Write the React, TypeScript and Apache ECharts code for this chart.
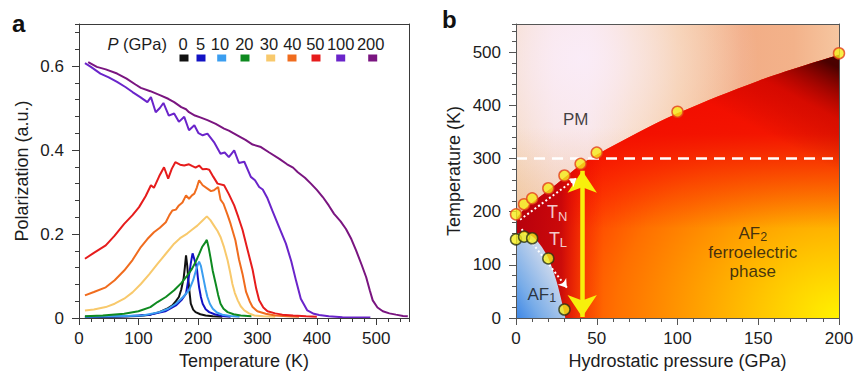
import React, { useEffect, useRef } from 'react';
import * as echarts from 'echarts';

// ---------------- Panel a : polarization vs temperature ----------------
const pressureLabels = ['0', '5', '10', '20', '30', '40', '50', '100', '200'];
const curveColors = ['#111111', '#1212c4', '#3b9ef0', '#0e8a20', '#f8c96c', '#f06c1e', '#e61c1c', '#6a24ca', '#7a1580'];

const pol0 = [[10, 0.002], [60, 0.003], [100, 0.005], [120, 0.008], [135, 0.014], [148, 0.022], [157, 0.03], [163, 0.04], [168, 0.05], [172, 0.068], [176, 0.095], [178, 0.12], [180, 0.149], [182, 0.125], [184, 0.089], [186, 0.06], [188, 0.034], [192, 0.02], [196, 0.014], [204, 0.009], [213, 0.006], [225, 0.004], [241, 0.003]];
const pol5 = [[10, 0.003], [80, 0.004], [120, 0.008], [145, 0.016], [163, 0.03], [172, 0.042], [180, 0.058], [185, 0.101], [188, 0.13], [191, 0.154], [194, 0.14], [198, 0.121], [200, 0.095], [202, 0.073], [205, 0.05], [208, 0.034], [213, 0.021], [219, 0.014], [228, 0.009], [240, 0.005], [255, 0.003]];
const pol10 = [[10, 0.003], [60, 0.004], [107, 0.006], [135, 0.014], [150, 0.022], [163, 0.034], [175, 0.05], [185, 0.066], [192, 0.09], [197, 0.115], [200, 0.128], [202, 0.134], [205, 0.124], [207, 0.11], [210, 0.089], [213, 0.068], [216, 0.05], [220, 0.034], [225, 0.022], [232, 0.013], [241, 0.008], [255, 0.005], [270, 0.003]];
const pol20 = [[10, 0.004], [40, 0.006], [76, 0.01], [100, 0.016], [120, 0.026], [132, 0.038], [146, 0.05], [160, 0.066], [172, 0.083], [182, 0.101], [190, 0.117], [196, 0.133], [202, 0.152], [207, 0.169], [211, 0.177], [215, 0.186], [218, 0.168], [221, 0.145], [225, 0.112], [230, 0.081], [234, 0.055], [238, 0.034], [243, 0.022], [250, 0.014], [260, 0.009], [272, 0.006], [290, 0.004]];
const pol30 = [[10, 0.018], [25, 0.02], [45, 0.026], [60, 0.034], [76, 0.046], [90, 0.061], [104, 0.081], [118, 0.104], [132, 0.129], [146, 0.153], [160, 0.177], [170, 0.19], [182, 0.201], [190, 0.21], [199, 0.22], [207, 0.231], [215, 0.242], [221, 0.233], [227, 0.22], [233, 0.207], [238, 0.193], [244, 0.168], [250, 0.137], [254, 0.11], [258, 0.081], [262, 0.06], [267, 0.042], [272, 0.028], [278, 0.018], [286, 0.011], [295, 0.006], [310, 0.004], [330, 0.003]];
const pol40 = [[10, 0.054], [25, 0.062], [45, 0.073], [60, 0.09], [76, 0.113], [90, 0.138], [104, 0.169], [115, 0.188], [126, 0.204], [136, 0.215], [146, 0.228], [152, 0.245], [157, 0.256], [163, 0.258], [168, 0.268], [174, 0.275], [180, 0.292], [185, 0.284], [190, 0.292], [194, 0.296], [198, 0.31], [202, 0.328], [208, 0.316], [216, 0.308], [222, 0.302], [227, 0.304], [234, 0.312], [238, 0.282], [243, 0.272], [250, 0.245], [255, 0.224], [263, 0.185], [269, 0.14], [275, 0.105], [281, 0.062], [287, 0.04], [292, 0.026], [300, 0.016], [314, 0.01], [330, 0.006], [350, 0.004], [370, 0.003]];
const pol50 = [[10, 0.141], [25, 0.155], [45, 0.173], [60, 0.196], [76, 0.224], [90, 0.245], [101, 0.264], [112, 0.29], [121, 0.316], [126, 0.31], [135, 0.338], [143, 0.359], [150, 0.332], [156, 0.355], [162, 0.371], [170, 0.365], [177, 0.363], [185, 0.366], [190, 0.362], [196, 0.358], [202, 0.363], [208, 0.354], [214, 0.355], [219, 0.353], [226, 0.336], [233, 0.32], [244, 0.316], [252, 0.295], [261, 0.268], [268, 0.24], [275, 0.21], [283, 0.165], [292, 0.115], [298, 0.07], [303, 0.042], [310, 0.025], [317, 0.016], [330, 0.011], [342, 0.008], [360, 0.006], [382, 0.004], [400, 0.003]];
const pol100 = [[10, 0.607], [20, 0.598], [36, 0.582], [50, 0.573], [64, 0.562], [78, 0.55], [90, 0.538], [103, 0.526], [115, 0.514], [121, 0.526], [129, 0.49], [136, 0.5], [142, 0.512], [151, 0.482], [160, 0.487], [168, 0.467], [177, 0.479], [185, 0.447], [194, 0.459], [201, 0.44], [208, 0.435], [216, 0.439], [227, 0.419], [238, 0.391], [245, 0.394], [252, 0.383], [261, 0.399], [269, 0.369], [278, 0.372], [289, 0.336], [296, 0.328], [303, 0.312], [309, 0.306], [317, 0.285], [325, 0.256], [336, 0.218], [348, 0.177], [357, 0.135], [365, 0.089], [373, 0.046], [384, 0.018], [395, 0.01], [404, 0.007], [420, 0.004], [443, 0.002], [470, 0.001], [490, 0.001]];
const pol200 = [[15.5, 0.609], [30, 0.598], [45, 0.592], [64, 0.582], [80, 0.57], [95, 0.556], [104, 0.548], [120, 0.54], [137, 0.53], [150, 0.522], [160, 0.514], [172, 0.502], [180, 0.497], [185, 0.49], [195, 0.482], [205, 0.477], [216, 0.471], [230, 0.462], [244, 0.451], [252, 0.446], [261, 0.439], [270, 0.432], [280, 0.424], [292, 0.413], [306, 0.407], [320, 0.394], [337, 0.379], [350, 0.366], [360, 0.358], [368, 0.347], [380, 0.334], [390, 0.32], [400, 0.305], [410, 0.288], [420, 0.268], [429, 0.248], [440, 0.23], [449, 0.212], [458, 0.188], [466, 0.161], [475, 0.128], [483, 0.097], [489, 0.066], [494, 0.042], [502, 0.025], [511, 0.016], [522, 0.011], [533, 0.008], [545, 0.005], [553, 0.004]];
const polarizationCurves = [pol0, pol5, pol10, pol20, pol30, pol40, pol50, pol100, pol200];

// ---------------- Panel b : phase diagram ----------------
const tnPressure = [0, 5, 10, 20, 30, 40, 50, 100, 200];
const tnTemperature = [195, 214, 225, 244, 268, 290, 311, 388, 498];
const tlPressure = [0, 5, 10, 20, 30];
const tlTemperature = [148, 153, 150, 112, 16];
const orderedBoundaryP = [0, 5, 10, 20, 30, 40, 50, 75, 100, 150, 200];
const orderedBoundaryT = [186, 204, 217, 240, 264, 288, 307, 348, 385, 446, 495];
const af1BoundaryP = [0, 4, 10, 15, 20, 25, 29, 30.5];
const af1BoundaryT = [158, 160, 154, 138, 113, 70, 22, 0];
const roomTemperature = 300;
const arrowPressure = 41;
const arrowTemperatures = [2, 277];
const tnArrow = [[2.5, 185], [37.5, 263]];
const tlArrow = [[3.5, 167], [31.5, 57]];
const annotationTexts = ['{k|PM}', '{w|T}{ws|N}', '{w|T}{ws|L}', '{k|AF}{ks|1}', '{k|AF}{ks|2}\n{k|ferroelectric}\n{k|phase}'];
const annotationAt = [[37, 374], [25.5, 199], [26, 149], [16, 45], [146.6, 124]];

// axis ranges
const aX = { min: 0, max: 555, major: 100, minor: 20 };
const aY = { min: 0, max: 0.7, major: 0.2, minor: 0.04 };
const bX = { min: 0, max: 200, major: 50, minor: 10 };
const bY = { min: 0, max: 553, major: 100, minor: 20 };

const FONT = '"Liberation Sans", Arial, Helvetica, sans-serif';
const TXT = '#1c1c1c';

function zip(a: number[], b: number[]) {
  return a.map((v, i) => [v, b[i]]);
}

function axesFor(grid: number, X: any, Y: any, xName: string, yName: string, lineColor: string, yNameGap: number, xHideMax: boolean, yHideMax: boolean) {
  const line = { show: true, onZero: false, lineStyle: { color: lineColor, width: 1 } };
  const none = { show: false };
  const xAxes = [
    {
      type: 'value', gridIndex: grid, position: 'bottom', min: X.min, max: X.max, interval: X.major, z: 10,
      axisLine: line, axisTick: { show: true, length: 7, lineStyle: { color: lineColor } },
      axisLabel: { show: true, margin: 12, fontSize: 17, color: TXT, fontFamily: FONT, showMaxLabel: !xHideMax },
      splitLine: none, name: xName, nameLocation: 'middle', nameGap: 32,
      nameTextStyle: { fontSize: 18, color: TXT, fontFamily: FONT },
    },
    {
      type: 'value', gridIndex: grid, position: 'bottom', min: X.min, max: X.max, interval: X.minor, z: 10,
      axisLine: none, axisTick: { show: true, length: 4, lineStyle: { color: lineColor } },
      axisLabel: none, splitLine: none,
    },
    {
      type: 'value', gridIndex: grid, position: 'top', min: X.min, max: X.max, z: 10,
      axisLine: line, axisTick: none, axisLabel: none, splitLine: none,
    },
  ];
  const yAxes = [
    {
      type: 'value', gridIndex: grid, position: 'left', min: Y.min, max: Y.max, interval: Y.major, z: 10,
      axisLine: line, axisTick: { show: true, length: 7, lineStyle: { color: lineColor } },
      axisLabel: { show: true, margin: 15, fontSize: 17, color: TXT, fontFamily: FONT, showMaxLabel: !yHideMax },
      splitLine: none, name: yName, nameLocation: 'middle', nameGap: yNameGap,
      nameTextStyle: { fontSize: 18, color: TXT, fontFamily: FONT },
    },
    {
      type: 'value', gridIndex: grid, position: 'left', min: Y.min, max: Y.max, interval: Y.minor, z: 10,
      axisLine: none, axisTick: { show: true, length: 4, lineStyle: { color: lineColor } },
      axisLabel: none, splitLine: none,
    },
    {
      type: 'value', gridIndex: grid, position: 'right', min: Y.min, max: Y.max, z: 10,
      axisLine: line, axisTick: none, axisLabel: none, splitLine: none,
    },
  ];
  return { xAxes, yAxes };
}

const legendNumberX = [183, 200.7, 220, 244.3, 269, 292.3, 315.3, 340.7, 370.7];
const legendSwatchX = [184, 201, 221.7, 245, 270.7, 292, 316, 340.7, 372.7];

export default function App() {
  const ref = useRef<HTMLDivElement>(null);
  useEffect(() => {
    if (!ref.current) return;
    const chart = echarts.init(ref.current, undefined, { renderer: 'svg' });
    const A = axesFor(0, aX, aY, 'Temperature (K)', 'Polarization (a.u.)', '#3a3a3a', 48, true, true);
    const B = axesFor(1, bX, bY, 'Hydrostatic pressure (GPa)', 'Temperature (K)', '#555555', 53, false, true);

    const curveSeries = polarizationCurves.map((d, i) => ({
      type: 'line', name: pressureLabels[i], xAxisIndex: 0, yAxisIndex: 0, data: d,
      symbol: 'none', showSymbol: false, silent: true, z: 3,
      lineStyle: { color: curveColors[i], width: 2 }, itemStyle: { color: curveColors[i] },
    }));

    const bAx = { xAxisIndex: 3, yAxisIndex: 3, silent: true, symbol: 'none', showSymbol: false };
    const fullBg = [[bX.min, bY.max], [bX.max, bY.max]];
    const orderedData = zip(orderedBoundaryP, orderedBoundaryT);
    const af1Data = zip(af1BoundaryP, af1BoundaryT);

    const phaseSeries: any[] = [
      // paramagnetic background
      {
        ...bAx, type: 'line', data: fullBg, z: 1, lineStyle: { opacity: 0 },
        areaStyle: {
          opacity: 1,
          color: new echarts.graphic.LinearGradient(0, 0, 1, 0, [
            { offset: 0, color: '#f4d6b6' }, { offset: 0.12, color: '#f8e2dc' }, { offset: 0.22, color: '#f8e4e2' },
            { offset: 0.36, color: '#f7d5b0' }, { offset: 0.5, color: '#f5c592' }, { offset: 0.7, color: '#f2ad86' },
            { offset: 0.86, color: '#f3b28a' }, { offset: 1, color: '#f6c6a0' },
          ]),
        },
      },
      {
        ...bAx, type: 'line', data: fullBg, z: 1, lineStyle: { opacity: 0 },
        areaStyle: {
          opacity: 1,
          color: new echarts.graphic.RadialGradient(0.2, 0.12, 0.55, [
            { offset: 0, color: 'rgba(250,236,248,0.95)' }, { offset: 1, color: 'rgba(250,236,248,0)' },
          ]),
        },
      },
      {
        ...bAx, type: 'line', data: fullBg, z: 1, lineStyle: { opacity: 0 },
        areaStyle: {
          opacity: 1,
          color: new echarts.graphic.LinearGradient(0, 0, 0, 1, [
            { offset: 0.35, color: 'rgba(236,180,128,0)' }, { offset: 0.7, color: 'rgba(236,178,126,0.55)' },
          ]),
        },
      },
      // ordered (AF2) region: warm core at high pressure / low temperature
      {
        ...bAx, type: 'line', data: orderedData, smooth: 0.35, z: 2, lineStyle: { opacity: 0 },
        areaStyle: {
          opacity: 1,
          color: new echarts.graphic.RadialGradient(1, 1, 1.15, [
            { offset: 0, color: '#fff200' }, { offset: 0.22, color: '#ffc400' }, { offset: 0.42, color: '#ff9800' },
            { offset: 0.6, color: '#ff7000' }, { offset: 0.76, color: '#ff4000' }, { offset: 0.9, color: '#fb1800' },
            { offset: 1, color: '#f20a00' },
          ]),
        },
      },
      // red towards the upper part
      {
        ...bAx, type: 'line', data: orderedData, smooth: 0.35, z: 2, lineStyle: { opacity: 0 },
        areaStyle: {
          opacity: 1,
          color: new echarts.graphic.LinearGradient(0, 0, 0, 1, [
            { offset: 0, color: 'rgba(240,10,0,1)' }, { offset: 0.3, color: 'rgba(242,12,0,0.9)' },
            { offset: 0.5, color: 'rgba(245,20,0,0.4)' }, { offset: 0.66, color: 'rgba(245,20,0,0)' },
          ]),
        },
      },
      // darker red at low pressure
      {
        ...bAx, type: 'line', data: orderedData, smooth: 0.35, z: 2, lineStyle: { opacity: 0 },
        areaStyle: {
          opacity: 1,
          color: new echarts.graphic.LinearGradient(0, 0, 1, 0, [
            { offset: 0, color: 'rgba(180,0,14,0.95)' }, { offset: 0.14, color: 'rgba(190,0,12,0.8)' },
            { offset: 0.2, color: 'rgba(220,0,6,0.3)' }, { offset: 0.27, color: 'rgba(230,0,0,0)' },
          ]),
        },
      },
      // dark maroon corner at high pressure / high temperature
      {
        ...bAx, type: 'line', data: orderedData, smooth: 0.35, z: 2, lineStyle: { opacity: 0 },
        areaStyle: {
          opacity: 1,
          color: new echarts.graphic.LinearGradient(0.82, 0.33, 1, 0.05, [
            { offset: 0, color: 'rgba(120,0,0,0)' }, { offset: 0.5, color: 'rgba(150,0,0,0.3)' },
            { offset: 1, color: 'rgba(60,0,0,0.92)' },
          ]),
        },
      },
      // AF1 region
      {
        ...bAx, type: 'line', data: af1Data, smooth: 0.3, z: 2, lineStyle: { opacity: 0 },
        areaStyle: {
          opacity: 1,
          color: new echarts.graphic.LinearGradient(1, 0, 0, 1, [
            { offset: 0, color: '#e8e4ea' }, { offset: 0.35, color: '#c8d6ec' }, { offset: 0.75, color: '#78ace8' },
            { offset: 1, color: '#3c86e6' },
          ]),
        },
      },
      // dashed room-temperature line + yellow pressure arrow
      {
        ...bAx, type: 'line', data: [], z: 4,
        markLine: {
          silent: true, animation: false, label: { show: false },
          data: [
            [
              { coord: [bX.min, roomTemperature], symbol: 'none', lineStyle: { color: '#ffffff', width: 2.5, type: [11, 7] } },
              { coord: [bX.max, roomTemperature], symbol: 'none' },
            ],
          ],
        },
      },
      {
        ...bAx, type: 'line', data: [], z: 5,
        markLine: {
          silent: true, animation: false, label: { show: false },
          symbol: ['arrow', 'arrow'], symbolSize: [22, 22],
          lineStyle: { color: '#f7ef0c', width: 4.5, type: 'solid' },
          data: [[{ coord: [arrowPressure, arrowTemperatures[0]] }, { coord: [arrowPressure, arrowTemperatures[1]] }]],
        },
      },
      {
        ...bAx, type: 'line', data: [], z: 5,
        markLine: {
          silent: true, animation: false, label: { show: false },
          symbol: ['none', 'arrow'], symbolSize: 8,
          lineStyle: { color: '#ffffff', width: 2, type: [2, 2.5] },
          data: [[{ coord: tnArrow[0] }, { coord: tnArrow[1] }]],
        },
      },
      {
        ...bAx, type: 'line', data: [], z: 5,
        markLine: {
          silent: true, animation: false, label: { show: false },
          symbol: ['none', 'arrow'], symbolSize: 8,
          lineStyle: { color: '#ffffff', width: 2, type: [2, 2.5], curveness: 0.35 },
          data: [[{ coord: tlArrow[0] }, { coord: tlArrow[1] }]],
        },
      },
      // transition points
      {
        type: 'scatter', xAxisIndex: 3, yAxisIndex: 3, silent: true, z: 12, clip: false,
        data: zip(tnPressure, tnTemperature), symbolSize: 11,
        itemStyle: { color: '#f6ee1c', borderColor: '#e4401c', borderWidth: 1.5 },
      },
      {
        type: 'scatter', xAxisIndex: 3, yAxisIndex: 3, silent: true, z: 12, clip: false,
        data: zip(tlPressure, tlTemperature), symbolSize: 11,
        itemStyle: { color: '#f6ee1c', borderColor: '#2a3214', borderWidth: 1.5 },
      },
      // phase labels
      {
        type: 'scatter', xAxisIndex: 3, yAxisIndex: 3, silent: true, z: 13, symbolSize: 0,
        data: annotationAt.map((p, i) => ({
          value: p,
          label: {
            show: true, position: 'inside', formatter: annotationTexts[i], align: 'center',
            rich: {
              k: { fontSize: 17, color: '#111', fontFamily: FONT, lineHeight: 19 },
              ks: { fontSize: 12.5, color: '#111', fontFamily: FONT, lineHeight: 19, padding: [8, 0, 0, 0] },
              w: { fontSize: 18, color: '#fff', fontFamily: FONT, lineHeight: 20 },
              ws: { fontSize: 13, color: '#fff', fontFamily: FONT, lineHeight: 20, padding: [8, 0, 0, 0] },
            },
          },
        })),
      },
    ];

    const legendChildren: any[] = [
      {
        type: 'text', x: 167, y: 44,
        style: {
          text: '{i|P} (GPa)', align: 'right', verticalAlign: 'middle', fontSize: 16.5, fontFamily: FONT, fill: TXT,
          rich: { i: { fontStyle: 'italic', fontSize: 16.5, fontFamily: FONT, fill: TXT } },
        },
      },
    ];
    pressureLabels.forEach((p, i) => {
      legendChildren.push({
        type: 'text', x: legendNumberX[i], y: 44,
        style: { text: p, align: 'center', verticalAlign: 'middle', fontSize: 16.5, fontFamily: FONT, fill: TXT },
      });
      legendChildren.push({
        type: 'rect', shape: { x: legendSwatchX[i] - 4.5, y: 54.5, width: 9, height: 7 },
        style: { fill: curveColors[i] },
      });
    });

    chart.setOption({
      animation: false,
      backgroundColor: '#ffffff',
      grid: [
        { left: 79, top: 24, width: 330, height: 294 },
        { left: 516, top: 24, width: 323, height: 294 },
      ],
      xAxis: [...A.xAxes, ...B.xAxes],
      yAxis: [...A.yAxes, ...B.yAxes],
      series: [...curveSeries, ...phaseSeries],
      graphic: [
        { type: 'text', x: 12, y: 11, z: 20, style: { text: 'a', fontSize: 24, fontWeight: 'bold', fontFamily: FONT, fill: '#111' } },
        { type: 'text', x: 442, y: 7, z: 20, style: { text: 'b', fontSize: 24, fontWeight: 'bold', fontFamily: FONT, fill: '#111' } },
        { type: 'group', z: 20, children: legendChildren },
      ],
    });
    return () => chart.dispose();
  }, []);
  return <div ref={ref} style={{ position: 'fixed', left: 0, top: 0, width: 857, height: 376 }} />;
}
